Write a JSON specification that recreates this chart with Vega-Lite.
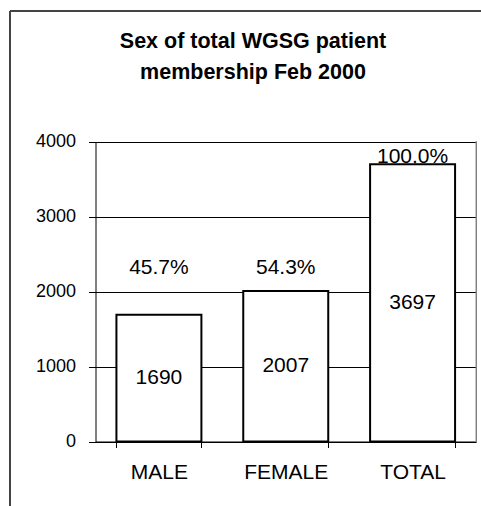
{
  "$schema": "https://vega.github.io/schema/vega-lite/v6.json",
  "width": 481,
  "height": 506,
  "autosize": {"type": "none"},
  "padding": 0,
  "background": "white",
  "config": {
    "font": "Liberation Sans",
    "view": {"stroke": null}
  },
  "title": {
    "text": ["Sex of total WGSG patient", "membership Feb 2000"],
    "fontSize": 21.5,
    "fontWeight": "bold",
    "color": "black",
    "lineHeight": 31,
    "offset": -83,
    "anchor": "middle",
    "frame": "group",
    "dx": 12.5
  },
  "data": {
    "values": [
      {"sex": "MALE", "count": 1690, "pct": "45.7%"},
      {"sex": "FEMALE", "count": 2007, "pct": "54.3%"},
      {"sex": "TOTAL", "count": 3697, "pct": "100.0%"}
    ]
  },
  "resolve": {"scale": {"y": "independent"}},
  "layer": [
    {
      "mark": {"type": "bar", "fill": "white", "stroke": "black", "strokeWidth": 2},
      "encoding": {
        "x": {
          "field": "sex",
          "type": "nominal",
          "sort": ["MALE", "FEMALE", "TOTAL"],
          "scale": {"range": [95.5, 476], "paddingInner": 0.33, "paddingOuter": 0.165},
          "axis": {
            "title": null,
            "orient": "bottom",
            "offset": -64.5,
            "labelAngle": 0,
            "labelFontSize": 21,
            "labelColor": "black",
            "labelPadding": 14,
            "tickBand": "extent",
            "tickSize": 6,
            "tickColor": "black",
            "domainColor": "black",
            "grid": false
          }
        },
        "y": {
          "field": "count",
          "type": "quantitative",
          "scale": {"domain": [0, 4000], "range": [441.5, 141.5], "nice": false},
          "axis": {
            "title": null,
            "orient": "left",
            "offset": -95.5,
            "values": [0, 1000, 2000, 3000, 4000],
            "format": "d",
            "labelFontSize": 18,
            "labelColor": "black",
            "labelPadding": 13,
            "tickSize": 7,
            "tickColor": "black",
            "domainColor": "black",
            "grid": true,
            "gridColor": "black"
          }
        }
      }
    },
    {
      "mark": {"type": "rule", "color": "#808080", "strokeWidth": 1},
      "encoding": {
        "x": {"datum": "TOTAL", "bandPosition": 1.25},
        "y": {"datum": 0, "type": "quantitative", "scale": {"domain": [0, 4000], "range": [441.5, 141.5], "nice": false}, "axis": null},
        "y2": {"datum": 4000}
      }
    },
    {
      "mark": {"type": "rule", "color": "#444444", "strokeWidth": 2},
      "encoding": {
        "x": {"datum": "MALE", "bandPosition": -1.2524},
        "y": {"datum": -1000, "type": "quantitative", "scale": {"domain": [0, 4000], "range": [441.5, 141.5], "nice": false}, "axis": null},
        "y2": {"datum": 5740}
      }
    },
    {
      "mark": {"type": "rule", "color": "#444444", "strokeWidth": 2},
      "encoding": {
        "x": {"datum": "MALE", "bandPosition": -1.2524},
        "x2": {"datum": "TOTAL", "bandPosition": 1.5},
        "y": {"datum": 5740, "type": "quantitative", "scale": {"domain": [0, 4000], "range": [441.5, 141.5], "nice": false}, "axis": null}
      }
    },
    {
      "mark": {"type": "text", "fontSize": 21, "baseline": "middle", "color": "black"},
      "encoding": {
        "x": {"field": "sex", "type": "nominal", "sort": ["MALE", "FEMALE", "TOTAL"]},
        "y": {"field": "count", "type": "quantitative", "scale": {"domain": [0, 8000], "range": [441.5, 141.5], "nice": false}, "axis": null},
        "text": {"field": "count", "type": "quantitative", "format": "d"}
      }
    },
    {
      "transform": [{"filter": "datum.sex != 'TOTAL'"}],
      "mark": {"type": "text", "fontSize": 21, "baseline": "middle", "color": "black"},
      "encoding": {
        "x": {"field": "sex", "type": "nominal", "sort": ["MALE", "FEMALE", "TOTAL"]},
        "y": {"datum": 2315, "type": "quantitative", "scale": {"domain": [0, 4000], "range": [441.5, 141.5], "nice": false}, "axis": null},
        "text": {"field": "pct"}
      }
    },
    {
      "transform": [{"filter": "datum.sex == 'TOTAL'"}],
      "mark": {"type": "text", "fontSize": 21, "baseline": "alphabetic", "dy": -1, "color": "black"},
      "encoding": {
        "x": {"field": "sex", "type": "nominal", "sort": ["MALE", "FEMALE", "TOTAL"]},
        "y": {"field": "count", "type": "quantitative", "scale": {"domain": [0, 4000], "range": [441.5, 141.5], "nice": false}, "axis": null},
        "text": {"field": "pct"}
      }
    }
  ]
}
